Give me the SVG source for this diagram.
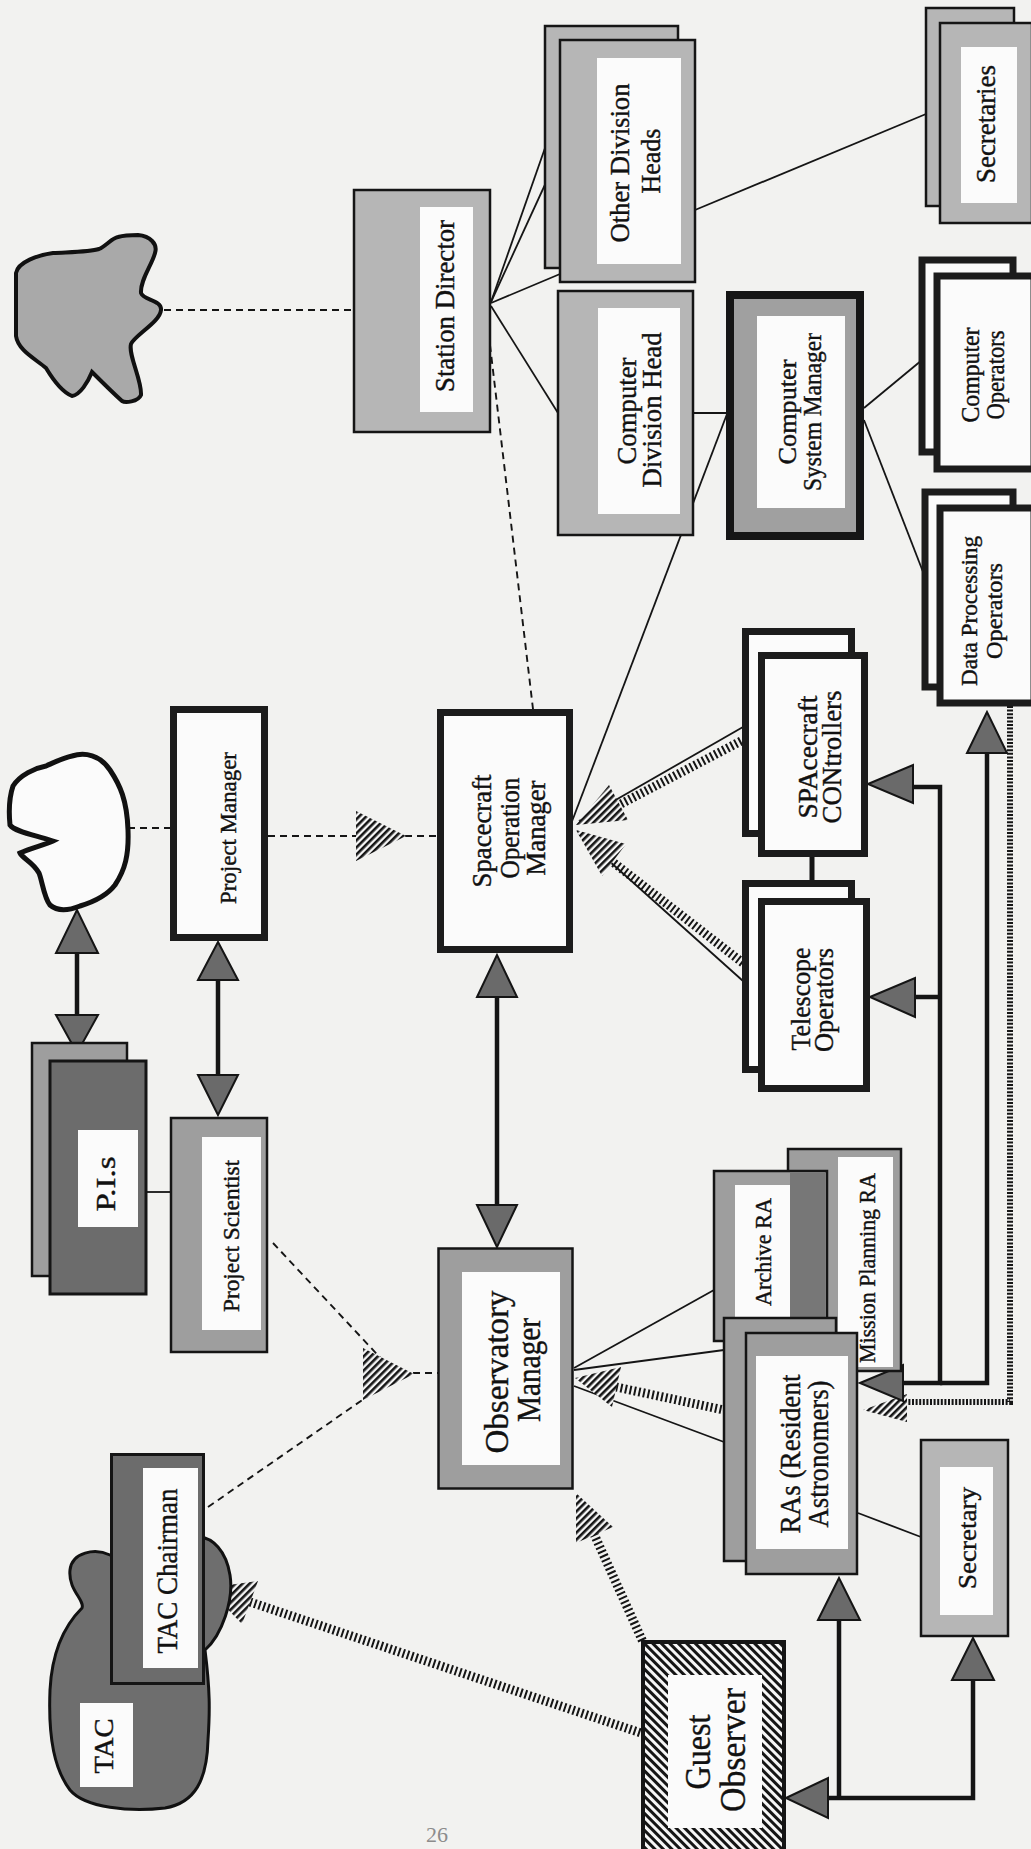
<svg xmlns="http://www.w3.org/2000/svg" width="1031" height="1849" viewBox="0 0 1031 1849">
  <defs>
    <style>
      .t { font-family: "Liberation Serif", "DejaVu Serif", serif; text-anchor: middle; dominant-baseline: central; fill: #111; stroke: #111; stroke-width: 0.4px; }
      .lg { fill: #b6b6b6; stroke: #151515; stroke-width: 2.5; }
      .mg { fill: #9e9e9e; stroke: #151515; stroke-width: 2.5; }
      .dg { fill: #6c6c6c; stroke: #151515; stroke-width: 3; }
      .w { fill: #fbfbfb; }
      .tb { fill: #fbfbfb; stroke: #1c1c1c; stroke-width: 7; }
      .ln { stroke: #151515; stroke-width: 1.8; fill: none; }
      .ds { stroke: #151515; stroke-width: 1.9; stroke-dasharray: 7 5; fill: none; }
      .arr { stroke: #151515; stroke-width: 4.5; fill: none; }
      .tri { fill: #6a6a6a; stroke: #151515; stroke-width: 2; stroke-linejoin: miter; }
      .hh { fill: url(#hatch); }
      .stripe { stroke: #151515; stroke-width: 9; stroke-dasharray: 2 2.6; fill: none; }
      .stripe-thin { stroke: #151515; stroke-width: 6; stroke-dasharray: 2 1.6; fill: none; }
      .pg { font-family: "Liberation Serif", serif; fill: #8c8c8c; }
    </style>
    <pattern id="hatch" width="5" height="5" patternUnits="userSpaceOnUse" patternTransform="rotate(45)">
      <rect width="5" height="5" fill="#f6f6f6"/>
      <rect width="2.6" height="5" fill="#151515"/>
    </pattern>
    <pattern id="diag" width="6" height="6" patternUnits="userSpaceOnUse" patternTransform="rotate(-45)">
      <rect width="6" height="6" fill="#f6f6f6"/>
      <rect width="3" height="6" fill="#151515"/>
    </pattern>
  </defs>

  <!-- paper -->
  <rect width="1031" height="1849" fill="#f2f2f0"/>

  <!-- connectors -->
  <g id="connectors">
    <!-- plain reporting lines -->
    <line class="ln" x1="491" y1="302" x2="545" y2="148"/>
    <line class="ln" x1="491" y1="302" x2="560" y2="152"/>
    <line class="ln" x1="491" y1="303" x2="560" y2="274"/>
    <line class="ln" x1="491" y1="306" x2="558" y2="413"/>
    <line class="ln" x1="695" y1="210" x2="926" y2="114"/>
    <line class="ln" x1="693" y1="413" x2="727" y2="413"/>
    <line class="ln" x1="727" y1="414" x2="571" y2="824"/>
    <line class="ln" x1="864" y1="408" x2="922" y2="360"/>
    <line class="ln" x1="864" y1="420" x2="925" y2="577"/>
    <line class="ln" x1="574" y1="1368" x2="714" y2="1290"/>
    <line class="ln" x1="574" y1="1370" x2="724" y2="1350"/>
    <line class="ln" x1="574" y1="1386" x2="724" y2="1442"/>
    <line class="ln" x1="858" y1="1513" x2="921" y2="1537"/>
    <line class="ln" x1="147" y1="1192" x2="171" y2="1192"/>
    <line class="ln" x1="579" y1="821" x2="743" y2="727"/>
    <line class="ln" x1="579" y1="834" x2="743" y2="981"/>
    <line x1="812" y1="856" x2="812" y2="899" stroke="#151515" stroke-width="5"/>

    <!-- dashed links -->
    <line class="ds" x1="164" y1="310" x2="354" y2="310"/>
    <line class="ds" x1="490" y1="345" x2="533" y2="709"/>
    <line class="ds" x1="128" y1="828" x2="171" y2="828"/>
    <line class="ds" x1="268" y1="836" x2="358" y2="836"/>
    <line class="ds" x1="405" y1="836" x2="438" y2="836"/>
    <line class="ds" x1="273" y1="1243" x2="388" y2="1366"/>
    <line class="ds" x1="208" y1="1507" x2="368" y2="1396"/>
    <line class="ds" x1="413" y1="1373" x2="438" y2="1373"/>

    <!-- striped bands -->
    <line class="stripe" x1="617" y1="806" x2="743" y2="740"/>
    <line class="stripe" x1="614" y1="863" x2="743" y2="963"/>
    <line class="stripe" x1="616" y1="1387" x2="724" y2="1410"/>
    <line class="stripe" x1="594" y1="1534" x2="643" y2="1642"/>
    <line class="stripe" x1="250" y1="1602" x2="641" y2="1733"/>
    <polyline class="stripe-thin" points="1010,706 1010,1402 907,1402"/>

    <!-- hatched arrowheads -->
    <polygon class="hh" points="356,811 356,861 406,836"/>
    <polygon class="hh" points="363,1348 363,1400 414,1374"/>
    <polygon class="hh" points="576,825 628,820 609,785"/>
    <polygon class="hh" points="576,830 626,844 602,876"/>
    <polygon class="hh" points="575,1378 612,1407 621,1367"/>
    <polygon class="hh" points="576,1493 576,1543 613,1527"/>
    <polygon class="hh" points="207,1588 242,1624 258,1581"/>
    <polygon class="hh" points="907,1394 907,1422 863,1410"/>

    <!-- heavy arrows -->
    <line class="arr" x1="497" y1="997" x2="497" y2="1205"/>
    <line class="arr" x1="218" y1="980" x2="218" y2="1075"/>
    <line class="arr" x1="77" y1="953" x2="77" y2="1015"/>
    <polyline class="arr" points="913,787 940,787 940,1383 903,1383"/>
    <line class="arr" x1="915" y1="997" x2="940" y2="997"/>
    <polyline class="arr" points="987,753 987,1383 940,1383"/>
    <polyline class="arr" points="828,1798 973,1798 973,1680"/>
    <line class="arr" x1="839" y1="1798" x2="839" y2="1620"/>

    <polygon class="tri" points="497,955 477,997 517,997"/>
    <polygon class="tri" points="497,1247 477,1205 517,1205"/>
    <polygon class="tri" points="218,942 198,980 238,980"/>
    <polygon class="tri" points="218,1115 198,1075 238,1075"/>
    <polygon class="tri" points="77,910 56,953 98,953"/>
    <polygon class="tri" points="77,1053 56,1015 98,1015"/>
    <polygon class="tri" points="868,784 913,765 913,803"/>
    <polygon class="tri" points="870,997 915,978 915,1017"/>
    <polygon class="tri" points="987,712 967,753 1007,753"/>
    <polygon class="tri" points="860,1383 903,1365 903,1401"/>
    <polygon class="tri" points="786,1798 828,1778 828,1818"/>
    <polygon class="tri" points="839,1578 818,1620 860,1620"/>
    <polygon class="tri" points="973,1638 952,1680 994,1680"/>
  </g>

  <!-- outside parties drawn as clouds -->
  <g id="n-cloud-station">
    <path d="M138,235 C150,236 158,244 155,253 C152,265 140,280 141,293 C143,300 162,300 161,310 C160,322 135,335 131,344 C128,355 142,380 141,395 C138,402 125,403 122,401 C112,392 98,378 92,372 C88,382 80,395 72,396 C62,392 52,378 46,368 C34,358 18,350 16,336 L16,273 C18,262 38,255 53,253 C70,252 90,252 99,249 C106,246 112,238 118,237 C125,235 132,235 138,235 Z" fill="#a9a9a9" stroke="#111" stroke-width="4"/>
  </g>
  <g id="n-cloud-project">
    <path d="M72,756 C85,752 100,755 110,770 C120,785 127,800 128,830 C129,855 125,870 115,885 C105,898 90,903 80,906 C70,910 58,912 50,905 C44,898 42,880 39,873 C33,862 22,858 20,853 C30,848 45,845 53,841 C35,835 15,832 10,825 C8,805 10,795 13,786 C20,775 35,768 46,766 C55,762 63,758 72,756 Z" fill="#fbfbfb" stroke="#111" stroke-width="5"/>
  </g>

  <g id="n-station-director">
    <rect class="lg" x="354" y="190" width="136" height="242"/>
    <rect class="w" x="420" y="207" width="53" height="205"/>
    <text class="t" font-size="27" textLength="172" lengthAdjust="spacingAndGlyphs" transform="translate(445,306) rotate(-90)">Station Director</text>
  </g>

  <g id="n-other-division-heads">
    <rect class="lg" x="545" y="26" width="133" height="242"/>
    <rect class="lg" x="560" y="40" width="135" height="242"/>
    <rect class="w" x="597" y="58" width="84" height="206"/>
    <text class="t" font-size="27" textLength="159" lengthAdjust="spacingAndGlyphs" transform="translate(620,163) rotate(-90)">Other Division</text>
    <text class="t" font-size="27" textLength="65" lengthAdjust="spacingAndGlyphs" transform="translate(651,161) rotate(-90)">Heads</text>
  </g>

  <g id="n-secretaries">
    <rect class="lg" x="926" y="8" width="88" height="198"/>
    <rect class="lg" x="940" y="23" width="92" height="200"/>
    <rect class="w" x="961" y="47" width="56" height="156"/>
    <text class="t" font-size="27" textLength="118" lengthAdjust="spacingAndGlyphs" transform="translate(986,124) rotate(-90)">Secretaries</text>
  </g>

  <g id="n-computer-division-head">
    <rect class="lg" x="558" y="291" width="135" height="244"/>
    <rect class="w" x="598" y="308" width="82" height="206"/>
    <text class="t" font-size="27" textLength="107" lengthAdjust="spacingAndGlyphs" transform="translate(627,411) rotate(-90)">Computer</text>
    <text class="t" font-size="27" textLength="155" lengthAdjust="spacingAndGlyphs" transform="translate(652,410) rotate(-90)">Division Head</text>
  </g>

  <g id="n-computer-system-manager">
    <rect x="730" y="295" width="130" height="241" fill="#a0a0a0" stroke="#161616" stroke-width="8"/>
    <rect class="w" x="757" y="316" width="88" height="192"/>
    <text class="t" font-size="25" textLength="105" lengthAdjust="spacingAndGlyphs" transform="translate(787,412) rotate(-90)">Computer</text>
    <text class="t" font-size="25" textLength="158" lengthAdjust="spacingAndGlyphs" transform="translate(812,412) rotate(-90)">System Manager</text>
  </g>

  <g id="n-computer-operators">
    <rect class="tb" x="922" y="260" width="91" height="192"/>
    <rect class="tb" x="937" y="276" width="97" height="193"/>
    <text class="t" font-size="25" textLength="95" lengthAdjust="spacingAndGlyphs" transform="translate(970,375) rotate(-90)">Computer</text>
    <text class="t" font-size="25" textLength="89" lengthAdjust="spacingAndGlyphs" transform="translate(995,375) rotate(-90)">Operators</text>
  </g>

  <g id="n-data-processing-operators">
    <rect class="tb" x="925" y="492" width="88" height="195"/>
    <rect class="tb" x="940" y="508" width="94" height="195"/>
    <text class="t" font-size="24" textLength="150" lengthAdjust="spacingAndGlyphs" transform="translate(969,611) rotate(-90)">Data Processing</text>
    <text class="t" font-size="24" textLength="96" lengthAdjust="spacingAndGlyphs" transform="translate(994,611) rotate(-90)">Operators</text>
  </g>

  <g id="n-spacecraft-controllers">
    <rect class="tb" x="745.5" y="631.5" width="106" height="202"/>
    <rect class="tb" x="761.5" y="655.5" width="103" height="198"/>
    <text class="t" font-size="27" textLength="123" lengthAdjust="spacingAndGlyphs" transform="translate(808,757) rotate(-90)">SPAcecraft</text>
    <text class="t" font-size="27" textLength="133" lengthAdjust="spacingAndGlyphs" transform="translate(832,757) rotate(-90)">CONtrollers</text>
  </g>

  <g id="n-telescope-operators">
    <rect class="tb" x="745.5" y="883.5" width="106" height="186"/>
    <rect class="tb" x="761.5" y="901.5" width="105" height="187"/>
    <text class="t" font-size="27" textLength="103" lengthAdjust="spacingAndGlyphs" transform="translate(801,999) rotate(-90)">Telescope</text>
    <text class="t" font-size="27" textLength="104" lengthAdjust="spacingAndGlyphs" transform="translate(824,1000) rotate(-90)">Operators</text>
  </g>

  <g id="n-spacecraft-operation-manager">
    <rect class="tb" x="440.5" y="712.5" width="129" height="237"/>
    <text class="t" font-size="28" textLength="113" lengthAdjust="spacingAndGlyphs" transform="translate(481,831) rotate(-90)">Spacecraft</text>
    <text class="t" font-size="28" textLength="101" lengthAdjust="spacingAndGlyphs" transform="translate(509,828) rotate(-90)">Operation</text>
    <text class="t" font-size="28" textLength="95" lengthAdjust="spacingAndGlyphs" transform="translate(535,828) rotate(-90)">Manager</text>
  </g>

  <g id="n-project-manager">
    <rect class="tb" x="173.5" y="709.5" width="91" height="228"/>
    <text class="t" font-size="24" textLength="152" lengthAdjust="spacingAndGlyphs" transform="translate(228,828) rotate(-90)">Project Manager</text>
  </g>

  <g id="n-pis">
    <rect class="mg" x="32" y="1043" width="95" height="233"/>
    <rect class="dg" x="50" y="1061" width="96" height="233"/>
    <rect class="w" x="78" y="1130" width="60" height="97"/>
    <text class="t" font-size="27" textLength="55" lengthAdjust="spacingAndGlyphs" transform="translate(106,1184) rotate(-90)">P.I.s</text>
  </g>

  <g id="n-project-scientist">
    <rect class="mg" x="171" y="1118" width="96" height="234" stroke-width="3"/>
    <rect class="w" x="202" y="1137" width="59" height="193"/>
    <text class="t" font-size="23" textLength="152" lengthAdjust="spacingAndGlyphs" transform="translate(231,1236) rotate(-90)">Project Scientist</text>
  </g>

  <g id="n-observatory-manager">
    <rect class="mg" x="438.5" y="1248.5" width="134" height="240" stroke-width="3"/>
    <rect class="w" x="462" y="1272" width="98" height="193"/>
    <text class="t" font-size="34" textLength="163" lengthAdjust="spacingAndGlyphs" transform="translate(496,1372) rotate(-90)">Observatory</text>
    <text class="t" font-size="34" textLength="104" lengthAdjust="spacingAndGlyphs" transform="translate(528,1370) rotate(-90)">Manager</text>
  </g>

  <g id="n-mission-planning-ra">
    <rect class="mg" x="788" y="1149" width="113" height="222" stroke-width="3"/>
    <rect class="w" x="838" y="1157" width="55" height="210"/>
    <text class="t" font-size="24" textLength="190" lengthAdjust="spacingAndGlyphs" transform="translate(867,1268) rotate(-90)">Mission Planning RA</text>
  </g>

  <g id="n-archive-ra">
    <rect class="mg" x="714" y="1171" width="113" height="170" stroke-width="3"/>
    <rect x="790" y="1173" width="35" height="166" fill="#777"/>
    <rect class="w" x="735" y="1185" width="55" height="150"/>
    <text class="t" font-size="24" textLength="108" lengthAdjust="spacingAndGlyphs" transform="translate(763,1252) rotate(-90)">Archive RA</text>
  </g>

  <g id="n-resident-astronomers">
    <rect class="mg" x="724" y="1318" width="112" height="243"/>
    <rect class="mg" x="746" y="1333" width="111" height="241" stroke-width="3"/>
    <rect class="w" x="756" y="1356" width="92" height="193"/>
    <text class="t" font-size="30" textLength="159" lengthAdjust="spacingAndGlyphs" transform="translate(789,1454) rotate(-90)">RAs (Resident</text>
    <text class="t" font-size="30" textLength="147" lengthAdjust="spacingAndGlyphs" transform="translate(817,1454) rotate(-90)">Astronomers)</text>
  </g>

  <g id="n-secretary">
    <rect class="lg" x="921" y="1440" width="87" height="196"/>
    <rect class="w" x="940" y="1467" width="53" height="148"/>
    <text class="t" font-size="25" textLength="102" lengthAdjust="spacingAndGlyphs" transform="translate(967,1538) rotate(-90)">Secretary</text>
  </g>

  <g id="n-guest-observer">
    <rect x="643" y="1642" width="141" height="220" fill="url(#diag)" stroke="#151515" stroke-width="4"/>
    <rect class="w" x="668" y="1675" width="94" height="153"/>
    <text class="t" font-size="35" textLength="75" lengthAdjust="spacingAndGlyphs" transform="translate(698,1752) rotate(-90)">Guest</text>
    <text class="t" font-size="35" textLength="124" lengthAdjust="spacingAndGlyphs" transform="translate(733,1750) rotate(-90)">Observer</text>
  </g>

  <g id="n-tac">
    <path d="M110,1555 C95,1548 72,1552 70,1570 C68,1590 85,1600 82,1608 C65,1625 52,1650 50,1690 C48,1740 55,1770 70,1790 C85,1808 130,1812 165,1808 C195,1803 207,1780 208,1740 C210,1710 210,1690 205,1650 C222,1635 234,1600 230,1575 C226,1550 212,1538 200,1537 Z" fill="#6e6e6e" stroke="#111" stroke-width="3"/>
    <rect class="w" x="80" y="1703" width="53" height="84"/>
    <text class="t" font-size="27" textLength="55" lengthAdjust="spacingAndGlyphs" transform="translate(104,1746) rotate(-90)">TAC</text>
  </g>

  <g id="n-tac-chairman">
    <rect class="dg" x="111.5" y="1454.5" width="92" height="229"/>
    <rect class="w" x="143" y="1468" width="55" height="200"/>
    <text class="t" font-size="29" textLength="165" lengthAdjust="spacingAndGlyphs" transform="translate(167,1571) rotate(-90)">TAC Chairman</text>
  </g>

  <!-- page number -->
  <text class="pg" x="437" y="1834" font-size="22" text-anchor="middle" dominant-baseline="central">26</text>
</svg>
